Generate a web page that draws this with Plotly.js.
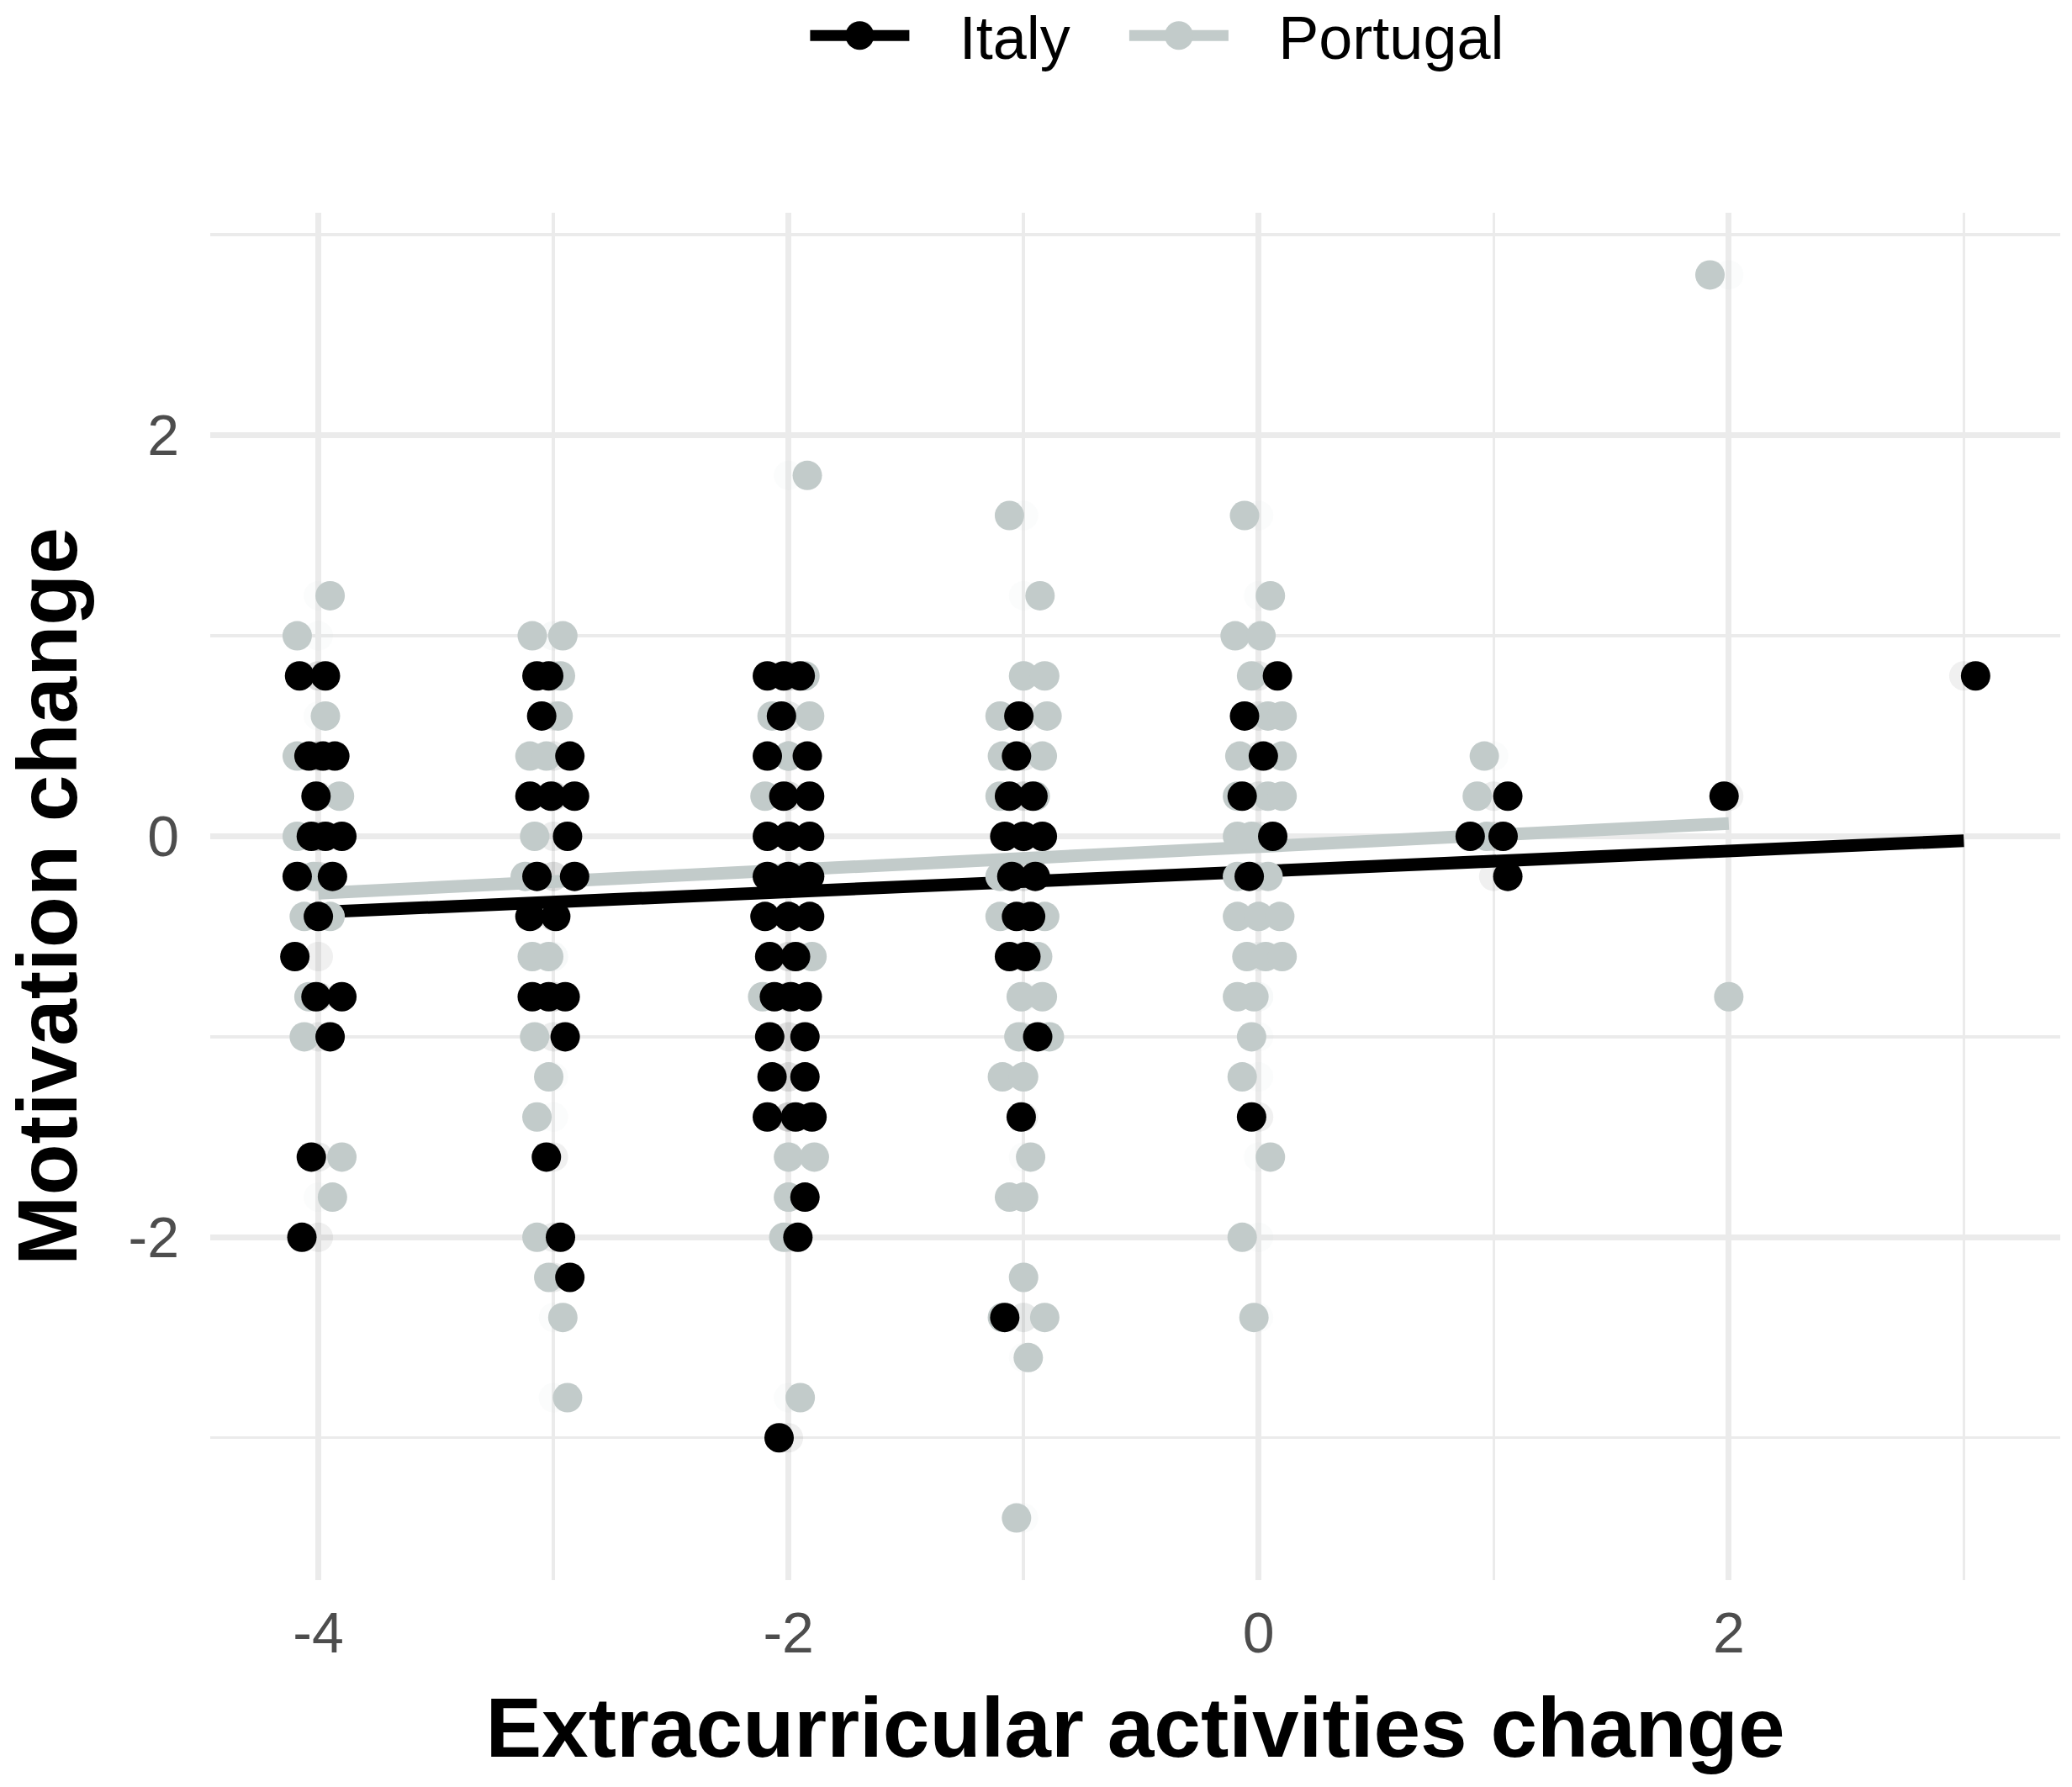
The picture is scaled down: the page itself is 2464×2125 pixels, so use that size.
<!DOCTYPE html>
<html>
<head>
<meta charset="utf-8">
<script src="https://cdn.plot.ly/plotly-3.0.1.min.js"></script>
<style>
  html, body { margin: 0; padding: 0; background: #ffffff; }
  #chart { width: 2464px; height: 2125px; }
</style>
</head>
<body>
<div id="chart"></div>
<script>
// Jittered positions as drawn (x = extracurricular activities change, y = motivation change)
const italyX = [
    -4.08, -3.97, -4.04, -3.98, -3.93, -4.01, -4.03, -3.97, -3.90, -4.09, -3.94, -4.00, -4.10, -4.01, -3.90, -3.95, -4.03, -4.07,
    -3.07, -3.02, -3.05, -2.93, -3.10, -3.01, -2.91, -2.94, -3.07, -2.91, -3.10, -2.99, -3.09, -3.02, -2.95, -2.95, -3.03, -2.97, -2.93,
    -2.09, -2.02, -1.95, -2.03, -2.09, -1.92, -2.02, -1.91, -2.09, -2.00, -1.91, -2.09, -2.00, -1.91, -2.10, -2.00, -1.91,
    -2.08, -1.97, -2.06, -1.99, -1.92, -2.08, -1.93, -2.07, -1.93, -2.09, -1.97, -1.90, -1.93, -1.96, -2.04,
    -1.02, -1.03, -1.06, -0.96, -1.08, -1.00, -0.92, -1.05, -0.95, -1.03, -0.97, -1.06, -0.99, -0.94, -1.01, -1.08,
    0.08, -0.06, 0.02, -0.07, 0.06, -0.04, -0.03,
    1.06, 0.90, 1.04, 1.06,
    1.98,
    3.05
];
const italyY = [
    0.8, 0.8, 0.4, 0.4, 0.4, 0.2, 0.0, 0.0, 0.0, -0.2, -0.2, -0.4, -0.6, -0.8, -0.8, -1.0, -1.6, -2.0,
    0.8, 0.8, 0.6, 0.4, 0.2, 0.2, 0.2, 0.0, -0.2, -0.2, -0.4, -0.4, -0.8, -0.8, -0.8, -1.0, -1.6, -2.0, -2.2,
    0.8, 0.8, 0.8, 0.6, 0.4, 0.4, 0.2, 0.2, 0.0, 0.0, 0.0, -0.2, -0.2, -0.2, -0.4, -0.4, -0.4,
    -0.6, -0.6, -0.8, -0.8, -0.8, -1.0, -1.0, -1.2, -1.2, -1.4, -1.4, -1.4, -1.8, -2.0, -3.0,
    0.6, 0.4, 0.2, 0.2, 0.0, 0.0, 0.0, -0.2, -0.2, -0.4, -0.4, -0.6, -0.6, -1.0, -1.4, -2.4,
    0.8, 0.6, 0.4, 0.2, 0.0, -0.2, -1.4,
    0.2, 0.0, 0.0, -0.2,
    0.2,
    0.8
];

const portugalX = [
    -3.95, -4.09, -3.97, -4.09, -3.91, -4.09, -4.02, -4.06, -3.95, -4.04, -4.06, -3.90, -3.94,
    -3.09, -2.96, -2.97, -2.98, -3.10, -3.03, -3.08, -3.12, -3.09, -3.02, -3.08, -3.02, -3.07, -3.07, -3.02, -2.96, -2.94,
    -1.92, -1.93, -2.07, -1.91, -2.00, -2.10, -1.90, -2.11, -2.00, -1.89, -2.00, -2.02, -1.95,
    -1.06, -0.93, -1.00, -0.91, -1.10, -0.90, -1.09, -0.92, -1.10, -0.95, -1.10, -1.10, -0.91, -0.94, -1.01, -0.92,
    -1.02, -0.89, -1.09, -1.00, -0.97, -1.06, -1.00, -1.00, -1.09, -0.91, -0.98, -1.03,
    -0.06, 0.05, -0.10, 0.01, -0.03, 0.04, 0.10, -0.08, 0.10, -0.09, 0.04, 0.10, -0.09, -0.03, -0.09, 0.04,
    -0.09, 0.00, 0.09, -0.05, 0.03, 0.10, -0.09, -0.02, -0.03, -0.07, 0.05, -0.07, -0.02,
    0.96, 0.93, 0.97,
    1.92, 2.00
];
const portugalY = [
    1.2, 1.0, 0.6, 0.4, 0.2, 0.0, -0.2, -0.4, -0.4, -0.8, -1.0, -1.6, -1.8,
    1.0, 1.0, 0.8, 0.6, 0.4, 0.4, 0.0, -0.2, -0.6, -0.6, -1.0, -1.2, -1.4, -2.0, -2.2, -2.4, -2.8,
    1.8, 0.8, 0.6, 0.6, 0.4, 0.2, -0.6, -0.8, -1.6, -1.6, -1.8, -2.0, -2.8,
    1.6, 1.2, 0.8, 0.8, 0.6, 0.6, 0.4, 0.4, 0.2, 0.2, -0.2, -0.4, -0.4, -0.6, -0.8, -0.8,
    -1.0, -1.0, -1.2, -1.2, -1.6, -1.8, -1.8, -2.2, -2.4, -2.4, -2.6, -3.4,
    1.6, 1.2, 1.0, 1.0, 0.8, 0.6, 0.6, 0.4, 0.4, 0.2, 0.2, 0.2, 0.0, 0.0, -0.2, -0.2,
    -0.4, -0.4, -0.4, -0.6, -0.6, -0.6, -0.8, -0.8, -1.0, -1.2, -1.6, -2.0, -2.4,
    0.4, 0.2, 0.0,
    2.8, -0.8
];

// Linear fits (intercept, slope)
const italyFit = [-0.175, 0.051];
const portugalFit = [-0.052, 0.058];

const xTicks = [-4, -2, 0, 2];
const yTicks = [-2, 0, 2];

const ITALY_COLOR = '#000000';
const PORTUGAL_COLOR = '#C2CBCA';
const GRID = '#EBEBEB';
const FONT = 'Liberation Sans, Arial, sans-serif';
const KEY_GAP = '\u00A0\u00A0\u2009';
const ITEM_GAP = '\u00A0\u00A0\u00A0';

function fitLine(xs, fit) {
    // the line spans the unjittered data range, like geom_smooth(method = "lm")
    const raw = xs.map(v => Math.round(v));
    const x0 = Math.min(...raw), x1 = Math.max(...raw);
    return { x: [x0, x1], y: [fit[0] + fit[1] * x0, fit[0] + fit[1] * x1] };
}

function ghostTrace(xs, ys, color) {
    return {
        x: xs.map(v => Math.round(v)), y: ys,
        type: 'scatter', mode: 'markers', showlegend: false, hoverinfo: 'skip',
        marker: { color: color, size: 35, opacity: 0.06 }
    };
}

const italyLine = fitLine(italyX, italyFit);
const portugalLine = fitLine(portugalX, portugalFit);

const traces = [
    ghostTrace(portugalX, portugalY, PORTUGAL_COLOR),
    ghostTrace(italyX, italyY, ITALY_COLOR),
    {
        x: italyLine.x, y: italyLine.y, type: 'scatter', mode: 'lines', showlegend: false,
        line: { color: ITALY_COLOR, width: 15 }
    },
    {
        x: portugalLine.x, y: portugalLine.y, type: 'scatter', mode: 'lines', showlegend: false,
        line: { color: PORTUGAL_COLOR, width: 15 }
    },
    {
        x: portugalX, y: portugalY, type: 'scatter', mode: 'markers', showlegend: false,
        marker: { color: PORTUGAL_COLOR, size: 35 }
    },
    {
        x: italyX, y: italyY, type: 'scatter', mode: 'markers', showlegend: false,
        marker: { color: ITALY_COLOR, size: 35 }
    },
    // legend keys only
    {
        x: [null], y: [null], name: KEY_GAP + 'Italy' + ITEM_GAP, type: 'scatter', mode: 'lines+markers',
        line: { color: ITALY_COLOR, width: 15 }, marker: { color: ITALY_COLOR, size: 35 }
    },
    {
        x: [null], y: [null], name: KEY_GAP + 'Portugal', type: 'scatter', mode: 'lines+markers',
        line: { color: PORTUGAL_COLOR, width: 15 }, marker: { color: PORTUGAL_COLOR, size: 35 }
    }
];

const axisCommon = {
    showgrid: true, gridcolor: GRID, gridwidth: 7,
    zeroline: false, showline: false, ticks: '',
    tickfont: { family: FONT, size: 68, color: '#4D4D4D' },
    minor: { dtick: 1, tick0: 0, showgrid: true, gridcolor: GRID, gridwidth: 3.5 }
};

const layout = {
    width: 2464, height: 2125,
    paper_bgcolor: '#ffffff', plot_bgcolor: '#ffffff',
    margin: { l: 250, r: 14, t: 253, b: 246 },
    font: { family: FONT, color: '#000000' },
    xaxis: Object.assign({}, axisCommon, {
        range: [-4.46, 3.41], tickvals: xTicks, ticktext: xTicks.map(String),
        ticklabelstandoff: 17,
        title: { text: 'Extracurricular activities change', font: { size: 100, weight: 'bold', color: '#000000' }, standoff: 40 }
    }),
    yaxis: Object.assign({}, axisCommon, {
        range: [-3.71, 3.11], tickvals: yTicks, ticktext: yTicks.map(String),
        ticklabelstandoff: 36,
        title: { text: 'Motivation change', font: { size: 100, weight: 'bold', color: '#000000' }, standoff: 30 }
    }),
    legend: {
        orientation: 'h', x: 0.512, xanchor: 'center',
        yref: 'container', y: 0.98, yanchor: 'middle',
        font: { size: 72, color: '#000000' }, itemwidth: 118
    },
    showlegend: true
};

Plotly.newPlot('chart', traces, layout, { staticPlot: true }).then(gd => {
    // Plotly caps legend key sizes; widen them to the size used in the plot
    gd.querySelectorAll('.legend .legendlines path').forEach(p => {
        p.style.strokeWidth = '13px';
    });
    gd.querySelectorAll('.legend .legendpoints path.scatterpts').forEach(p => {
        const r = 17;
        p.setAttribute('d', `M${r},0A${r},${r} 0 1,1 0,-${r}A${r},${r} 0 0,1 ${r},0Z`);
    });
});
</script>
</body>
</html>
